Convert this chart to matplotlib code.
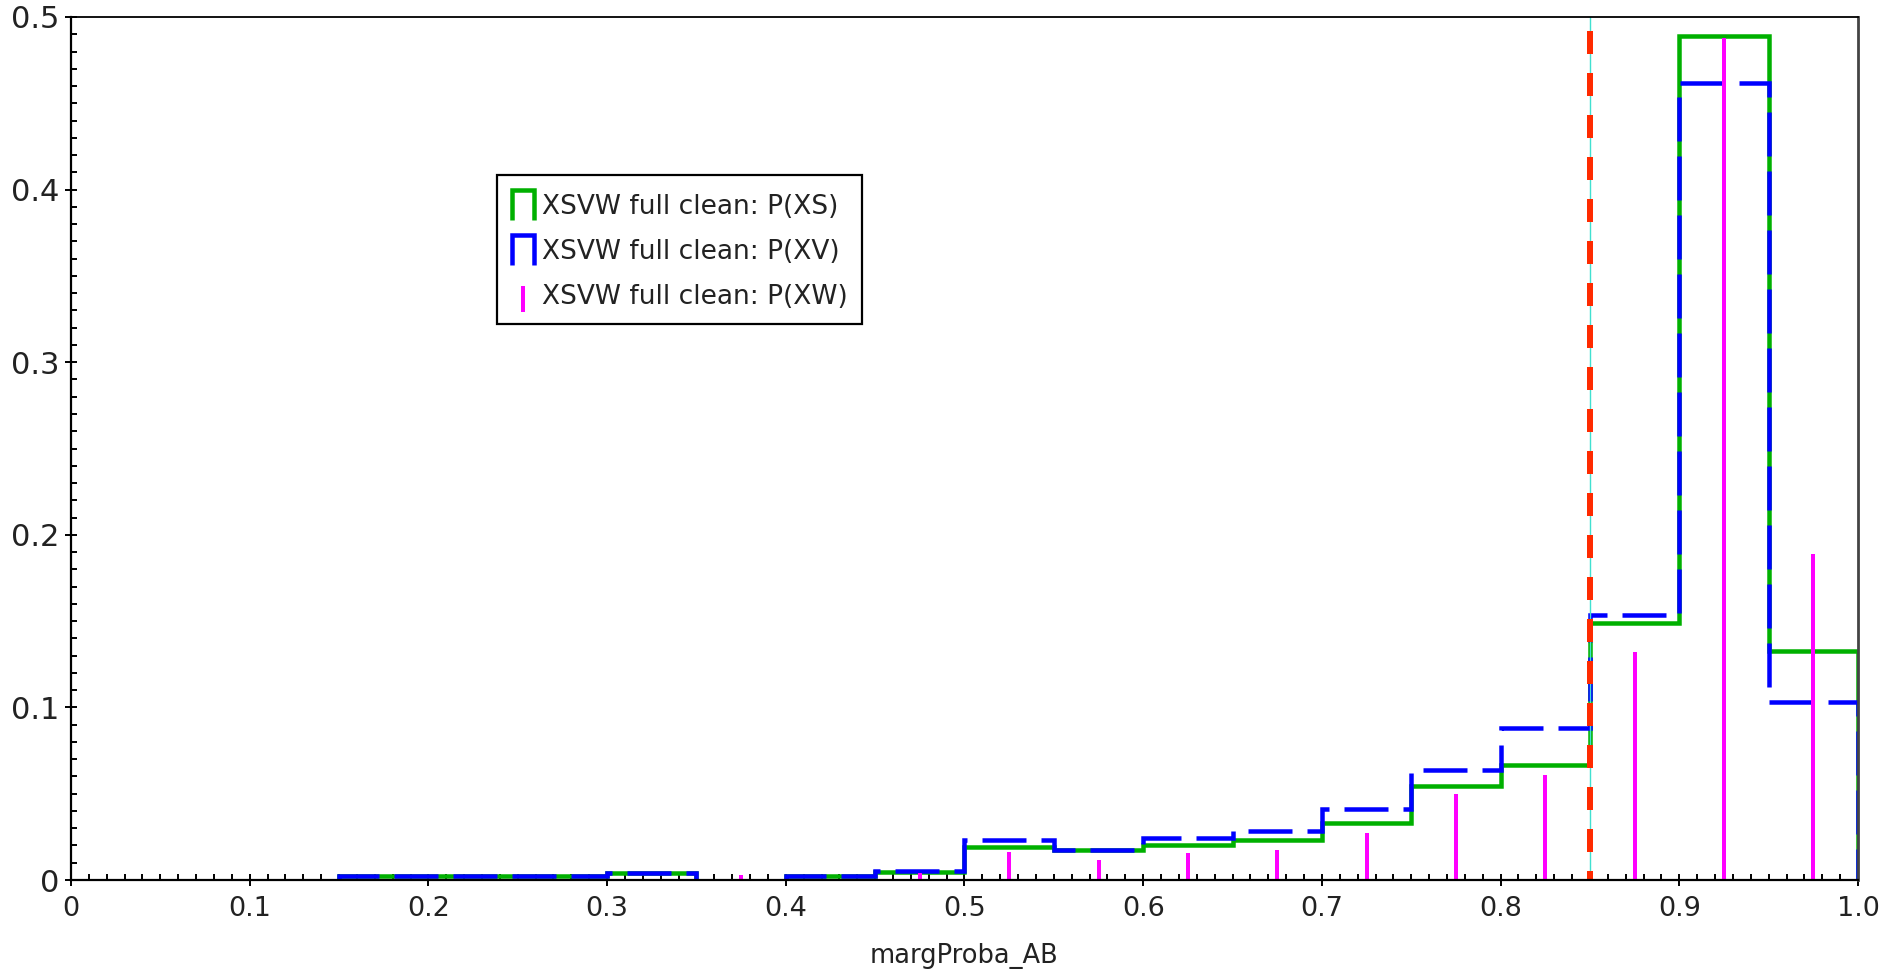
import matplotlib
matplotlib.use('Agg')
import numpy as np
import matplotlib.pyplot as plt
from matplotlib.lines import Line2D
from matplotlib.legend_handler import HandlerBase
from matplotlib.ticker import MultipleLocator, FixedLocator

# histogram binning of margProba_AB
bin_edges = [0.0, 0.05, 0.1, 0.15, 0.2, 0.25, 0.3, 0.35, 0.4, 0.45, 0.5,
             0.55, 0.6, 0.65, 0.7, 0.75, 0.8, 0.85, 0.9, 0.95, 1.0]
bin_centers = [0.025, 0.075, 0.125, 0.175, 0.225, 0.275, 0.325, 0.375, 0.425, 0.475,
               0.525, 0.575, 0.625, 0.675, 0.725, 0.775, 0.825, 0.875, 0.925, 0.975]

p_xs = [0, 0, 0, 0.0025, 0.0025, 0.0025, 0.0038, 0, 0.0023, 0.0045,
        0.019, 0.0176, 0.0203, 0.0232, 0.0331, 0.0544, 0.0669, 0.149, 0.4888, 0.1328]
p_xv = [0, 0, 0, 0.0025, 0.0025, 0.0025, 0.0038, 0, 0.0025, 0.0052,
        0.0232, 0.0176, 0.0244, 0.0286, 0.0412, 0.0638, 0.088, 0.1534, 0.4617, 0.1029]
p_xw = [0, 0, 0, 0, 0, 0, 0, 0.0027, 0, 0.004,
        0.016, 0.0116, 0.0157, 0.0174, 0.0271, 0.0499, 0.0611, 0.132, 0.4878, 0.189]

labels = ['XSVW full clean: P(XS)', 'XSVW full clean: P(XV)', 'XSVW full clean: P(XW)']
cut_value = 0.85

x_ticks = [0.0, 0.1, 0.2, 0.3, 0.4, 0.5, 0.6, 0.7, 0.8, 0.9, 1.0]
x_ticklabels = ['0', '0.1', '0.2', '0.3', '0.4', '0.5', '0.6', '0.7', '0.8', '0.9', '1.0']
y_ticks = [0.0, 0.1, 0.2, 0.3, 0.4, 0.5]
y_ticklabels = ['0', '0.1', '0.2', '0.3', '0.4', '0.5']

green = '#00b000'
blue = '#0000ff'
magenta = '#ff00ff'
red = '#ff2a00'
text_color = '#222222'

PX = 0.72  # points per pixel at dpi 100


def nonzero(values):
    # empty bins are left out so no outline runs along the axis
    v = np.asarray(values, dtype=float)
    return np.where(v > 0, v, np.nan)


class StepHandler(HandlerBase):
    # draws a small open-bottom box, like a piece of a step histogram
    def create_artists(self, legend, orig_handle, xdescent, ydescent, width, height, fontsize, trans):
        x0, y0 = -xdescent, -ydescent
        ln = Line2D([x0, x0, x0 + width, x0 + width], [y0, y0 + height, y0 + height, y0],
                    color=orig_handle.get_color(), lw=orig_handle.get_linewidth(),
                    solid_joinstyle='miter', solid_capstyle='butt')
        ln.set_transform(trans)
        return [ln]


class VBarHandler(HandlerBase):
    def create_artists(self, legend, orig_handle, xdescent, ydescent, width, height, fontsize, trans):
        xc = -xdescent + width / 2
        y0 = -ydescent
        ln = Line2D([xc, xc], [y0 - height * 0.05, y0 + height * 0.8], color=orig_handle.get_color(),
                    lw=orig_handle.get_linewidth(), solid_capstyle='butt')
        ln.set_transform(trans)
        return [ln]


fig = plt.figure(figsize=(18.81, 9.69), dpi=100)
ax = fig.add_axes([71 / 1881, 1 - 880 / 969, 1787 / 1881, 863 / 969])

lw = 4.5 * PX
ax.stairs(nonzero(p_xs), bin_edges, baseline=0, fill=False, edgecolor=green, lw=lw, zorder=2)
blue_dash = (44 * PX / lw, 15 * PX / lw)
ax.stairs(nonzero(p_xv), bin_edges, baseline=0, fill=False, edgecolor=blue, lw=lw,
          linestyle=(0, blue_dash), zorder=2.1)
ax.vlines(bin_centers, 0, p_xw, colors=magenta, lw=4 * PX, zorder=2.2)

# cut line: thin turquoise line under a dashed red one
ax.axvline(cut_value, color='#40e0d0', lw=1.0, zorder=2.3)
red_lw = 6 * PX
ax.axvline(cut_value, ymin=1, ymax=0, color=red, lw=red_lw,
           linestyle=(28 * PX / red_lw, (23 * PX / red_lw, 19 * PX / red_lw)), zorder=2.4)

ax.set_xlim(0, 1)
ax.set_ylim(0, 0.5)
ax.xaxis.set_major_locator(FixedLocator(x_ticks))
ax.set_xticklabels(x_ticklabels)
ax.yaxis.set_major_locator(FixedLocator(y_ticks))
ax.set_yticklabels(y_ticklabels)
ax.xaxis.set_minor_locator(MultipleLocator(0.01))
ax.yaxis.set_minor_locator(MultipleLocator(0.01))
ax.tick_params(which='major', direction='inout', length=12 * PX, width=1.4,
               labelcolor=text_color, top=False, right=False)
ax.tick_params(axis='x', which='major', pad=7, labelsize=19.5)
ax.tick_params(axis='y', which='major', pad=4, labelsize=22)
ax.tick_params(which='minor', direction='in', length=6 * PX, width=1.4, top=False, right=False)

for side in ['left', 'bottom']:
    ax.spines[side].set_linewidth(1.6)
    ax.spines[side].set_color('black')
ax.spines['top'].set_linewidth(1.3)
ax.spines['right'].set_linewidth(2.0)
ax.spines['right'].set_color('#444444')
for sp in ax.spines.values():
    sp.set_zorder(3)

ax.set_xlabel('margProba_AB', fontsize=18.5, color=text_color, labelpad=15)

h_xs = Line2D([], [], color=green, lw=lw)
h_xv = Line2D([], [], color=blue, lw=lw)
h_xw = Line2D([], [], color=magenta, lw=4 * PX)
leg = ax.legend([h_xs, h_xv, h_xw], labels,
                handler_map={h_xs: StepHandler(), h_xv: StepHandler(), h_xw: VBarHandler()},
                loc='upper left', bbox_to_anchor=((497 - 71) / 1787, (880 - 175) / 863),
                borderaxespad=0, fontsize=19, fancybox=False, framealpha=1,
                edgecolor='black', handlelength=0.85, handleheight=1.4,
                handletextpad=0.3, labelspacing=0.55, borderpad=0.55)
leg.get_frame().set_linewidth(1.6)
for t in leg.get_texts():
    t.set_color(text_color)

fig.savefig('out.png', dpi=100)
